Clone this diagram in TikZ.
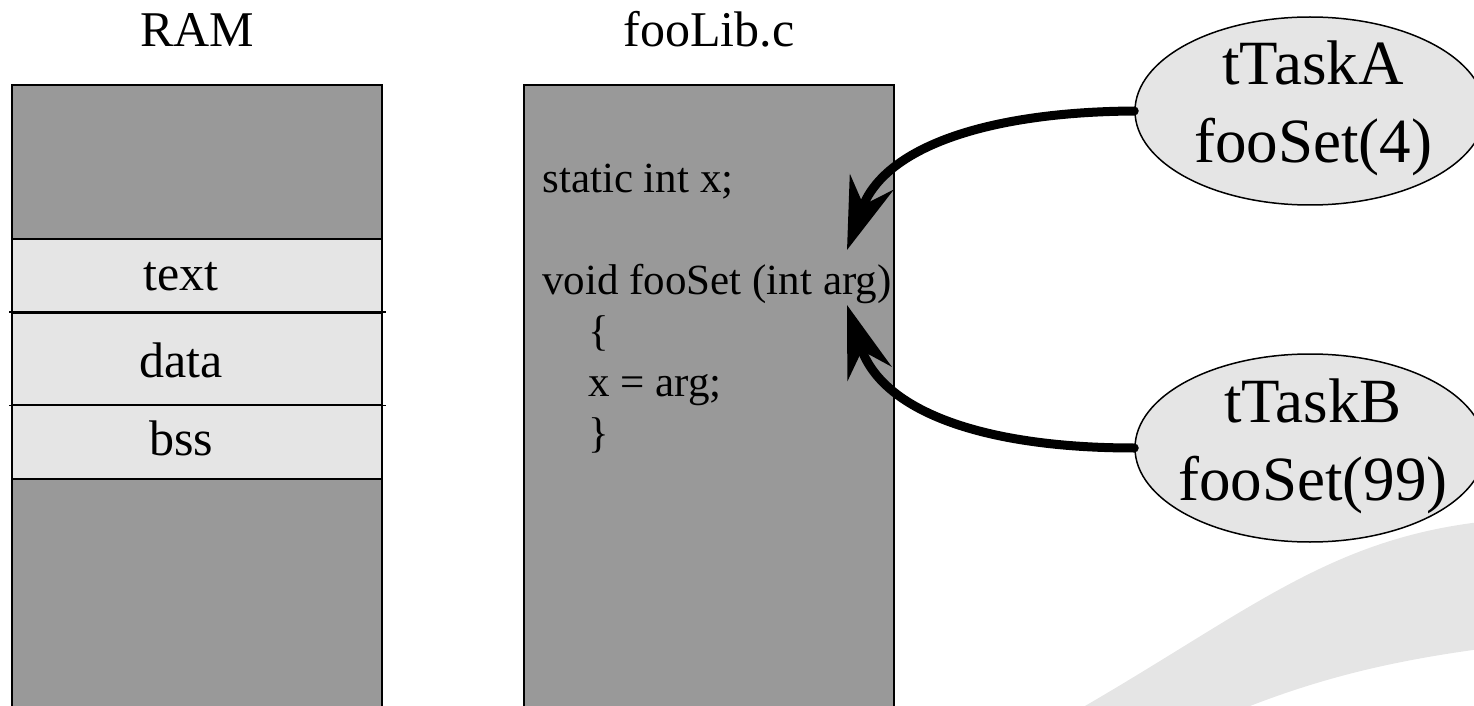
\documentclass[tikz,border=0pt]{standalone}
\usepackage{fontspec}
\setmainfont{Liberation Serif}
\usetikzlibrary{shapes.geometric,arrows.meta}
\definecolor{darkfill}{gray}{0.6}
\definecolor{lightfill}{gray}{0.9}
\tikzset{
  memblock/.style={draw=black, line width=0.8pt, fill=darkfill, minimum width=185pt, minimum height=320pt, anchor=north, inner sep=0pt},
  band/.style={draw=black, line width=0.8pt, fill=lightfill, minimum width=185pt, anchor=north, inner sep=0pt},
  sepline/.style={draw=black, line width=0.8pt},
  heading/.style={font=\fontsize{25pt}{30pt}\selectfont, anchor=base, inner sep=0pt},
  bandlabel/.style={font=\fontsize{25pt}{30pt}\selectfont, anchor=base, inner sep=0pt},
  code/.style={font=\fontsize{21.5pt}{25.5pt}\selectfont, align=left, anchor=north west, inner sep=0pt},
  taskell/.style={ellipse, draw=black, line width=0.75pt, fill=lightfill, minimum width=175pt, minimum height=94pt, inner sep=0pt},
  tasktext/.style={font=\fontsize{31.5pt}{39pt}\selectfont, align=center, inner sep=0pt},
  call/.style={line width=4.5pt, line cap=round, -{Stealth[length=36pt,width=23pt,inset=12pt]}},
}
\begin{document}
\begin{tikzpicture}[x=0.5pt,y=-0.5pt]
\clip (0,0) rectangle (1474,706);
% background swoosh
\fill[lightfill] (1085,706) .. controls (1250,610) and (1330,540) .. (1480,522)
  -- (1480,649) .. controls (1400,660) and (1330,675) .. (1250,706) -- cycle;
% RAM column
\node[heading] (ramtitle) at (197,47) {RAM};
\node[memblock] (ram) at (197,84) {};
\node[band, minimum height=37pt] (textseg) at (197,238) {};
\node[band, minimum height=46pt] (dataseg) at (197,312) {};
\node[band, minimum height=37pt] (bssseg) at (197,404) {};
\draw[sepline] ([xshift=-1pt]dataseg.north west) -- ([xshift=1.5pt]dataseg.north east);
\draw[sepline] ([xshift=-1pt]dataseg.south west) -- ([xshift=1.5pt]dataseg.south east);
\node[bandlabel] (lbtext) at (181,290) {text};
\node[bandlabel] (lbdata) at (181,377) {data};
\node[bandlabel] (lbbss) at (181,455) {bss};
% fooLib.c column
\node[heading] (libtitle) at (709,47) {fooLib.c};
\node[memblock] (lib) at (709,84) {};
\node[code] (src) at (542,164) {static int x;\\[25.5pt]void fooSet (int arg)\\\hspace*{23pt}\{\\\hspace*{23pt}x = arg;\\\hspace*{23pt}\}};
% tasks
\node[taskell] (tA) at (1310,111) {};
\node[tasktext] (tAtext) at (1313,108) {tTaskA\\fooSet(4)};
\node[taskell] (tB) at (1310,448) {};
\node[tasktext] (tBtext) at (1313,446) {tTaskB\\fooSet(99)};
% calls
\coordinate (tipA) at (847,250);
\coordinate (tipB) at (847,305);
\draw[call] (tA.west) .. controls (985,112) and (884,148) .. (tipA);
\draw[call] (tB.west) .. controls (985,448) and (882,412) .. (tipB);
\end{tikzpicture}
\end{document}
